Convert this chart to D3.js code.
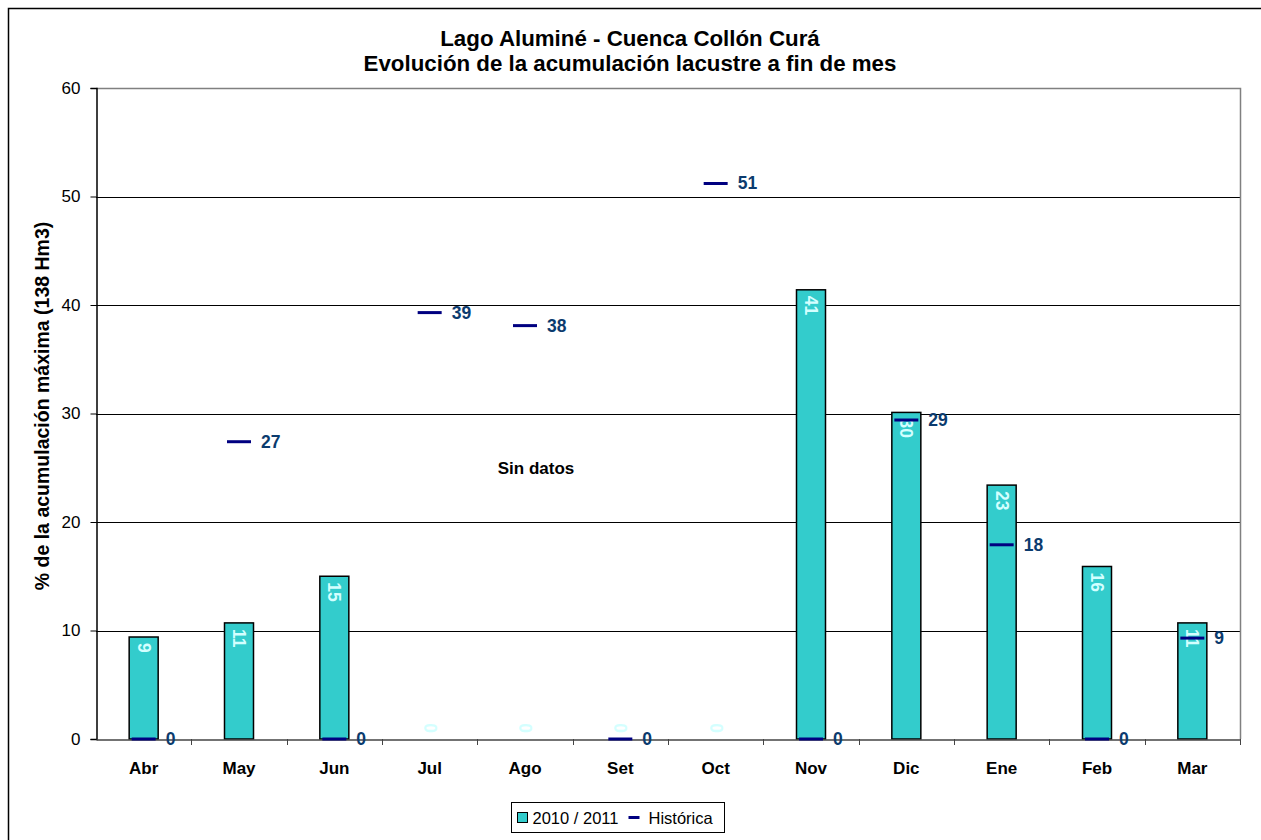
<!DOCTYPE html>
<html>
<head>
<meta charset="utf-8">
<script src="https://cdn.jsdelivr.net/npm/d3@7"></script>
<style>
  html, body { margin: 0; padding: 0; background: #fff; }
  svg { display: block; font-family: "Liberation Sans", Arial, sans-serif; }
</style>
</head>
<body>
<svg id="chart" width="1261" height="840"></svg>
<script>
// Monthly lake storage, % of max accumulation (138 Hm3)
const months = ["Abr", "May", "Jun", "Jul", "Ago", "Set", "Oct", "Nov", "Dic", "Ene", "Feb", "Mar"];
const season = [9.4, 10.7, 15.0, 0, 0, 0, 0, 41.4, 30.1, 23.4, 15.9, 10.7];
const historic = [0, 27.4, 0, 39.3, 38.1, 0, 51.2, 0, 29.4, 17.9, 0, 9.3];
const yTicks = [0, 10, 20, 30, 40, 50, 60];
const titleLines = ["Lago Aluminé - Cuenca Collón Curá", "Evolución de la acumulación lacustre a fin de mes"];
const yTitle = "% de la acumulación máxima (138 Hm3)";
const noteText = "Sin datos";
const legendNames = ["2010 / 2011", "Histórica"];

const svg = d3.select("#chart");
const plot = { left: 96, top: 88, right: 1240, bottom: 739 };
const FONT = "Liberation Sans, Arial, sans-serif";

// outer frame
svg.append("rect")
  .attr("x", 8.5).attr("y", 8.5)
  .attr("width", 1270).attr("height", 850)
  .attr("fill", "none").attr("stroke", "#000").attr("stroke-width", 1.5);

const x = d3.scaleBand().domain(months).range([plot.left, plot.right]).paddingInner(0).paddingOuter(0);
const y = d3.scaleLinear().domain([0, 60]).range([plot.bottom, plot.top]);
const cx = m => x(m) + x.bandwidth() / 2;

// title
svg.append("g").selectAll("text").data(titleLines).join("text")
  .attr("x", 630).attr("y", (d, i) => 46 + i * 25)
  .attr("text-anchor", "middle")
  .attr("font-size", 22.3).attr("font-weight", "bold").attr("fill", "#000")
  .text(d => d);

// horizontal grid lines
svg.append("g").selectAll("line").data(yTicks.filter(t => t > 0 && t < 60)).join("line")
  .attr("x1", plot.left).attr("x2", plot.right)
  .attr("y1", d => Math.round(y(d)) + 0.5).attr("y2", d => Math.round(y(d)) + 0.5)
  .attr("stroke", "#000").attr("stroke-width", 1);

// plot frame top and right (gray)
svg.append("path")
  .attr("d", `M${plot.left},${plot.top + 0.5}H${plot.right + 0.5}V${plot.bottom}`)
  .attr("fill", "none").attr("stroke", "#808080").attr("stroke-width", 1.5);

// y axis
const yAxis = d3.axisLeft(y).tickValues(yTicks).tickSize(6).tickPadding(10);
const gy = svg.append("g").attr("transform", `translate(${plot.left + 0.5},0)`).call(yAxis);
gy.select(".domain").attr("stroke", "#000").attr("stroke-width", 1.5);
gy.selectAll(".tick line").attr("stroke", "#000");
gy.selectAll(".tick text").attr("font-size", 17).attr("fill", "#000").attr("font-family", FONT);

// y axis title
svg.append("text")
  .attr("transform", "translate(48.5,406) rotate(-90)")
  .attr("text-anchor", "middle")
  .attr("font-size", 19.5).attr("font-weight", "bold").attr("fill", "#000")
  .text(yTitle);

// bars
const barW = 29;
svg.append("g").selectAll("rect").data(season.map((v, i) => ({ m: months[i], v }))).join("rect")
  .attr("x", d => cx(d.m) - barW / 2)
  .attr("y", d => y(d.v))
  .attr("width", barW)
  .attr("height", d => y(0) - y(d.v))
  .attr("fill", "#33CCCC").attr("stroke", "#000").attr("stroke-width", 1.5);

// x axis
const xAxis = d3.axisBottom(x).tickSize(0).tickPadding(22);
const gx = svg.append("g").attr("transform", `translate(0,${plot.bottom + 0.5})`).call(xAxis);
gx.select(".domain").attr("stroke", "#444").attr("stroke-width", 1.5);
gx.selectAll(".tick text").attr("font-size", 17).attr("font-weight", "bold").attr("fill", "#000")
  .attr("font-family", FONT);
// category boundary ticks
svg.append("g").selectAll("line").data(months.slice(1).concat(["end"])).join("line")
  .attr("x1", d => d === "end" ? plot.right + 0.5 : Math.round(x(d)) + 0.5)
  .attr("x2", d => d === "end" ? plot.right + 0.5 : Math.round(x(d)) + 0.5)
  .attr("y1", plot.bottom).attr("y2", plot.bottom + 6)
  .attr("stroke", "#444").attr("stroke-width", 1);

// bar value labels (rotated, light cyan)
svg.append("g").selectAll("text").data(season.map((v, i) => ({ m: months[i], v }))).join("text")
  .attr("transform", d => {
    const h = y(0) - y(d.v);
    const ty = h < 20 ? y(d.v) - 6 : y(d.v) + 6;
    return `translate(${cx(d.m)},${ty}) rotate(90)`;
  })
  .attr("text-anchor", d => (y(0) - y(d.v)) < 20 ? "end" : "start")
  .attr("dominant-baseline", "central")
  .attr("font-size", 17.5).attr("font-weight", "bold").attr("fill", "#D4FFFF")
  .text(d => Math.round(d.v));

// historic markers
const dashW = 24;
svg.append("g").selectAll("line").data(historic.map((v, i) => ({ m: months[i], v }))).join("line")
  .attr("x1", d => cx(d.m) - dashW / 2)
  .attr("x2", d => cx(d.m) + dashW / 2)
  .attr("y1", d => y(d.v)).attr("y2", d => y(d.v))
  .attr("stroke", "#000080").attr("stroke-width", 3);

svg.append("g").selectAll("text").data(historic.map((v, i) => ({ m: months[i], v }))).join("text")
  .attr("x", d => cx(d.m) + 22)
  .attr("y", d => y(d.v))
  .attr("dominant-baseline", "central")
  .attr("font-size", 17.5).attr("font-weight", "bold").attr("fill", "#0B3B6E")
  .text(d => Math.round(d.v));

// note
svg.append("text")
  .attr("x", cx("Ago") + 11).attr("y", 474)
  .attr("text-anchor", "middle")
  .attr("font-size", 17).attr("font-weight", "bold").attr("fill", "#000")
  .text(noteText);

// legend
const lg = svg.append("g").attr("transform", "translate(511.5,802.5)");
lg.append("rect").attr("width", 213).attr("height", 30)
  .attr("fill", "#fff").attr("stroke", "#000").attr("stroke-width", 1);
lg.append("rect").attr("x", 6).attr("y", 10).attr("width", 10).attr("height", 10)
  .attr("fill", "#33CCCC").attr("stroke", "#000").attr("stroke-width", 1);
lg.append("text").attr("x", 21).attr("y", 15.5).attr("dominant-baseline", "central")
  .attr("font-size", 16.5).attr("fill", "#000").text(legendNames[0]);
lg.append("line").attr("x1", 117).attr("x2", 128).attr("y1", 15).attr("y2", 15)
  .attr("stroke", "#000080").attr("stroke-width", 3);
lg.append("text").attr("x", 137).attr("y", 15.5).attr("dominant-baseline", "central")
  .attr("font-size", 16.5).attr("fill", "#000").text(legendNames[1]);
</script>
</body>
</html>
